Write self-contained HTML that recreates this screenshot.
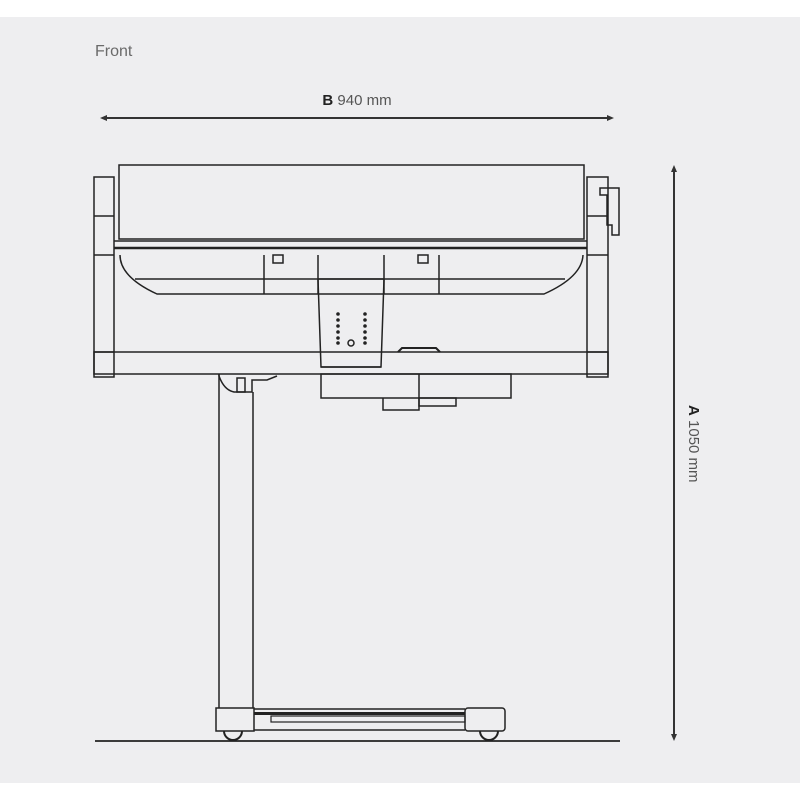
<!DOCTYPE html>
<html><head><style>
html,body{margin:0;padding:0;background:#fff;}
svg{display:block;}
text{font-family:"Liberation Sans",sans-serif;}
</style></head><body>
<svg width="800" height="800" viewBox="0 0 800 800" xmlns="http://www.w3.org/2000/svg">
<rect x="0" y="17" width="800" height="766" fill="#eeeef0"/>
<text x="95" y="56" font-size="16" fill="#6a6a6a">Front</text>
<text x="357" y="105" font-size="15" fill="#555" text-anchor="middle"><tspan font-weight="bold" fill="#222">B</tspan> 940 mm</text>
<g stroke="#333" stroke-width="2" fill="#333">
<line x1="104" y1="118" x2="610" y2="118"/>
<path d="M100 118 l7 -3 v6z" stroke="none"/>
<path d="M614 118 l-7 -3 v6z" stroke="none"/>
<line x1="674" y1="170" x2="674" y2="736"/>
<path d="M674 165 l-3 7 h6z" stroke="none"/>
<path d="M674 741 l-3 -7 h6z" stroke="none"/>
</g>
<text transform="translate(689,405) rotate(90)" font-size="15" fill="#555"><tspan font-weight="bold" fill="#222">A</tspan> 1050 mm</text>
<g fill="none" stroke="#222" stroke-width="1.5">
<!-- end blocks -->
<rect x="94" y="177" width="20" height="200"/>
<line x1="94" y1="216" x2="114" y2="216"/><line x1="94" y1="255" x2="114" y2="255"/><line x1="94" y1="352" x2="114" y2="352"/>
<rect x="587" y="177" width="21" height="200"/>
<line x1="587" y1="216" x2="608" y2="216"/><line x1="587" y1="255" x2="608" y2="255"/><line x1="587" y1="352" x2="608" y2="352"/>
<path d="M600 188 h19 v47 h-7 v-10 h-5 v-30 h-7z"/>
<!-- roller -->
<rect x="119" y="165" width="465" height="74"/>
<line x1="114" y1="248" x2="587" y2="248" stroke-width="2.5"/>
<path d="M114 241 h473"/>
<!-- tray -->
<path d="M120 255 q0 22 37 39 h387 q38 -17 39 -39"/>
<line x1="135" y1="279" x2="565" y2="279"/>
<line x1="264" y1="255" x2="264" y2="294"/><line x1="318" y1="255" x2="318" y2="294"/>
<line x1="384" y1="255" x2="384" y2="294"/><line x1="439" y1="255" x2="439" y2="294"/>
<rect x="273" y="255" width="10" height="8"/><rect x="418" y="255" width="10" height="8"/>
<!-- control panel -->
<line x1="318" y1="279" x2="384" y2="279"/>
<path d="M318 279 l3 88 h60 l3 -88"/>
<line x1="321" y1="367" x2="381" y2="367"/>
<circle cx="351" cy="343" r="3"/>
<!-- crossbar -->
<rect x="94" y="352" width="514" height="22"/>
<path d="M398 352 l4 -4 h34 l4 4" stroke-width="2"/>
<!-- lower box -->
<rect x="321" y="374" width="190" height="24"/>
<line x1="419" y1="374" x2="419" y2="398"/>
<path d="M383 398 v12 h36 v-12"/>
<rect x="419" y="398" width="37" height="8"/>
<!-- bracket -->
<path d="M219 374 v2 q5 14 15 16 h18 v-12 h15 l10 -4"/>
<rect x="237" y="378" width="8" height="14"/>
<!-- leg -->
<line x1="219" y1="374" x2="219" y2="708"/>
<line x1="253" y1="392" x2="253" y2="708"/>
<!-- base -->
<rect x="216" y="708" width="38" height="23"/>
<rect x="465" y="708" width="40" height="23" rx="3"/>
<line x1="254" y1="709" x2="465" y2="709"/>
<line x1="254" y1="730" x2="465" y2="730"/>
<rect x="271" y="716" width="194" height="6" stroke-width="1.2"/>
<path d="M224 731 a9 9 0 0 0 18 0" stroke-width="2"/>
<path d="M480 731 a9 9 0 0 0 18 0" stroke-width="2"/>
</g>
<g fill="#222">
<line x1="95" y1="741" x2="620" y2="741" stroke="#222" stroke-width="1.8"/>
<rect x="254" y="712" width="211" height="3"/>
<circle cx="338" cy="314" r="1.8"/><circle cx="338" cy="320" r="1.8"/><circle cx="338" cy="326" r="1.8"/><circle cx="338" cy="332" r="1.8"/><circle cx="338" cy="338" r="1.8"/><circle cx="338" cy="343" r="1.8"/>
<circle cx="365" cy="314" r="1.8"/><circle cx="365" cy="320" r="1.8"/><circle cx="365" cy="326" r="1.8"/><circle cx="365" cy="332" r="1.8"/><circle cx="365" cy="338" r="1.8"/><circle cx="365" cy="343" r="1.8"/>
</g>
</svg>
</body></html>
